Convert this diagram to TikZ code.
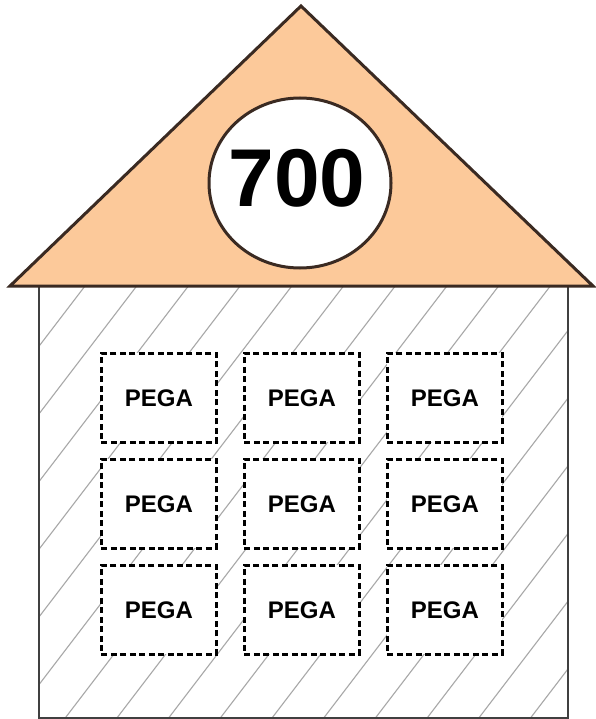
\documentclass[tikz,border=0pt]{standalone}
\usepackage{fontspec}
\setmainfont{Liberation Sans}
\usetikzlibrary{shapes.geometric}
\definecolor{roof}{HTML}{FCC99A}
\definecolor{roofline}{HTML}{3A2A22}
\definecolor{wall}{HTML}{404040}
\definecolor{hatch}{HTML}{A8A8A8}
\tikzset{
  pegabox/.style={draw=black, fill=white, line width=2.8pt, dash pattern=on 6pt off 3.5pt,
    minimum width=115pt, minimum height=89pt, inner sep=0pt, anchor=north west,
    font=\bfseries\fontsize{24}{24}\selectfont},
  hatchline/.style={draw=hatch, line width=1.1pt},
}
\begin{document}
\begin{tikzpicture}[x=1pt,y=-1pt]
\useasboundingbox (0,0) rectangle (595,719);
\fill[white] (0,0) rectangle (595,719);
% body with hatching
\begin{scope}
  \clip (39,286) rectangle (568,718);
  \foreach \k in {-1,...,18} {
    \draw[hatchline] ({85+51.7*\k},286) -- ({85+51.7*\k-330},718);
  }
\end{scope}
\draw[wall, line width=2.6pt] (39,286) -- (39,718) -- (568,718) -- (568,286);
% roof
\coordinate (apex) at (301,6);
\coordinate (rl) at (10,286);
\coordinate (rr) at (593,286);
\draw[roofline, fill=roof, line width=3pt, line join=miter] (apex) -- (rl) -- (rr) -- cycle;
\node[draw=roofline, fill=white, line width=3pt, ellipse, minimum width=182pt, minimum height=170pt, inner sep=0pt] (circ) at (300,183) {};
\node[font=\bfseries\fontsize{82}{82}\selectfont, inner sep=0pt] (num) at (297,178) {700};
% boxes
\foreach \c/\x in {1/100,2/243,3/386} {
  \foreach \r/\y in {1/352,2/458,3/564} {
    \node[pegabox] (p\r\c) at (\x,\y) {PEGA};
  }
}
\end{tikzpicture}
\end{document}
